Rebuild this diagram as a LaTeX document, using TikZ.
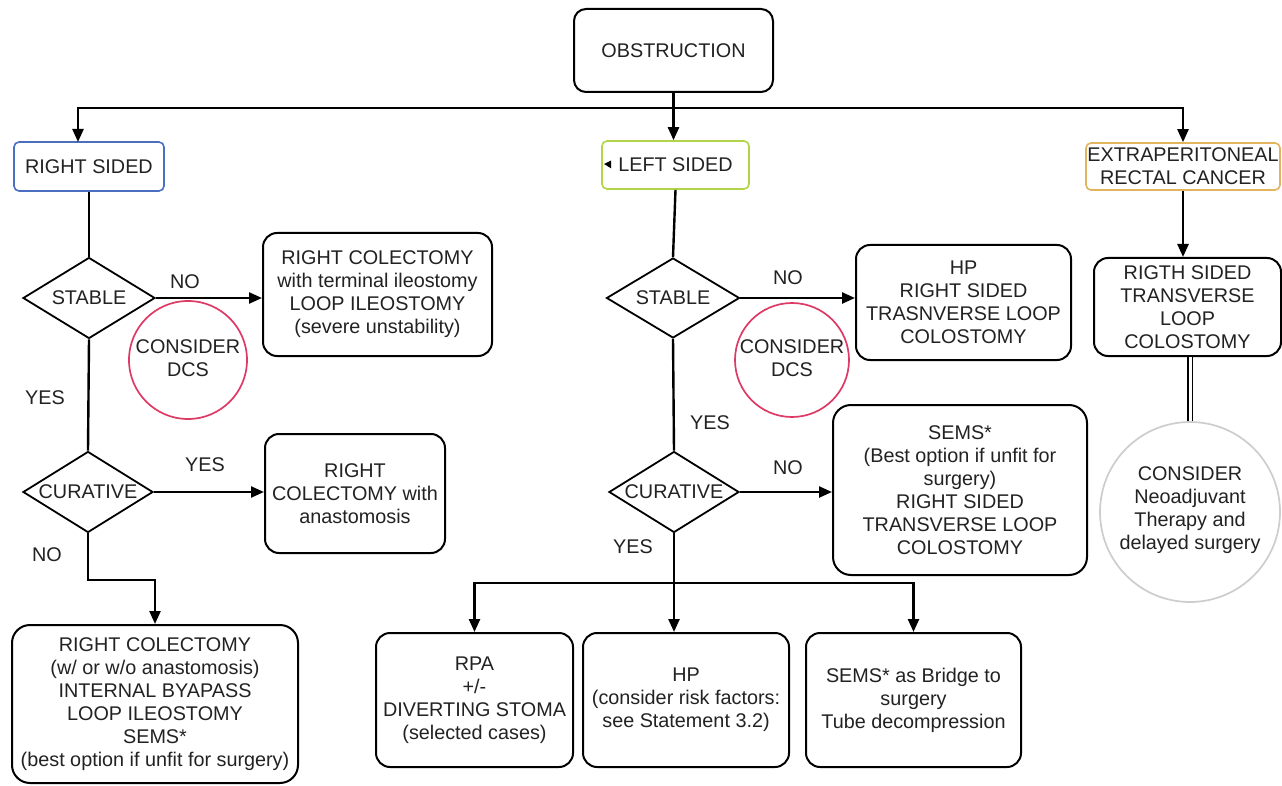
\documentclass[tikz,border=0pt]{standalone}
\usepackage{fontspec}
\setmainfont{Liberation Sans}
\usetikzlibrary{shapes.geometric,arrows.meta,calc}
\definecolor{txt}{HTML}{222222}
\definecolor{blueb}{HTML}{4A6FC0}
\definecolor{greenb}{HTML}{B2D448}
\definecolor{orangeb}{HTML}{E2B45E}
\definecolor{redc}{HTML}{DE3A66}
\definecolor{grayc}{HTML}{CDCDCD}
\begin{document}
\begin{tikzpicture}[x=1pt,y=-1pt,
  every node/.style={text=txt, font=\fontsize{19.8}{23}\selectfont, align=center},
  box/.style={draw=black, line width=2pt, rounded corners=14pt, inner sep=0pt},
  smallbox/.style={line width=1.6pt, rounded corners=5pt, inner sep=0pt},
  dia/.style={draw=black, line width=1.8pt, shape=diamond, inner sep=0pt},
  ring/.style={shape=circle, line width=1.7pt, inner sep=0pt},
  conn/.style={draw=black, line width=2.4pt},
  arr/.style={conn, -{Triangle[length=13pt,width=11pt]}},
  lbl/.style={inner sep=0pt}
]
\useasboundingbox (0,0) rectangle (1282,786);
\fill[white] (0,0) rectangle (1282,786);

% top
\node[box, rounded corners=12pt, minimum width=199pt, minimum height=83pt] (obs) at (673.5,50.5) {OBSTRUCTION};
\node[smallbox, draw=blueb, minimum width=150pt, minimum height=49pt] (rs) at (89,166.5) {RIGHT SIDED};
\node[smallbox, draw=greenb, minimum width=147pt, minimum height=48pt] (ls) at (675.5,165) {LEFT SIDED};
\node[smallbox, draw=orangeb, minimum width=194pt, minimum height=47pt] (ext) at (1183,166.5) {EXTRAPERITONEAL\\RECTAL CANCER};
\fill[black] ($(ls.west)+(10,-4.5)$) -- ($(ls.west)+(3,-1)$) -- ($(ls.west)+(10,3.5)$) -- cycle;

\coordinate (hb) at (673.5,108);
\coordinate (rsin) at (78,142);
\draw[arr] (obs.south) -- (obs.south |- ls.north);
\draw[arr] (hb) -| (rsin);
\draw[arr] (hb) -| (ext.north);

% right sided branch
\node[dia, minimum width=132pt, minimum height=81pt, label={center:STABLE}] (st1) at (89,298) {};
\node[dia, minimum width=130pt, minimum height=81pt, label={center:CURATIVE}] (cu1) at (88,492) {};
\node[box, minimum width=229pt, minimum height=123pt] (rc1) at (377.5,294.5) {RIGHT COLECTOMY\\with terminal ileostomy\\LOOP ILEOSTOMY\\(severe unstability)};
\node[box, minimum width=180pt, minimum height=119pt] (rc2) at (355,493.5) {RIGHT\\COLECTOMY with\\anastomosis};
\node[box, rounded corners=18pt, minimum width=286pt, minimum height=158pt] (rc3) at (155,704) {RIGHT COLECTOMY\\(w/ or w/o anastomosis)\\INTERNAL BYAPASS\\LOOP ILEOSTOMY\\SEMS*\\(best option if unfit for surgery)};
\node[ring, draw=redc, minimum size=118pt] (dcs1) at (188,360) {};
\node[lbl] (dcs1t) at (188,358) {CONSIDER\\DCS};

\draw[conn] (rs.south) -- (st1.north);
\draw[arr] (st1.east) -- (st1.east -| rc1.west);
\draw[conn] (st1.south) -- (cu1.north);
\draw[arr] (cu1.east) -- (cu1.east -| rc2.west);
\coordinate (k1) at (88,580);
\draw[arr] (cu1.south) -- (k1) -| (rc3.north);

\node[lbl] (no1) at (185,282) {NO};
\node[lbl] (yes1) at (45,398) {YES};
\node[lbl] (yes2) at (205,465) {YES};
\node[lbl] (no2) at (47,555) {NO};

% left sided branch
\node[dia, minimum width=133pt, minimum height=80pt, label={center:STABLE}] (st2) at (673,298) {};
\node[dia, minimum width=130pt, minimum height=81pt, label={center:CURATIVE}] (cu2) at (674,492) {};
\node[box, minimum width=215pt, minimum height=115pt] (hp1) at (963.5,302.5) {HP\\RIGHT SIDED\\TRASNVERSE LOOP\\COLOSTOMY};
\node[box, rounded corners=18pt, minimum width=254pt, minimum height=170pt] (sems1) at (960,490) {SEMS*\\(Best option if unfit for\\surgery)\\RIGHT SIDED\\TRANSVERSE LOOP\\COLOSTOMY};
\node[ring, draw=redc, minimum size=114pt] (dcs2) at (792,360) {};
\node[lbl] (dcs2t) at (792,358) {CONSIDER\\DCS};
\node[box, minimum width=197pt, minimum height=134pt] (rpa) at (474.5,700) {RPA\\+/-\\DIVERTING STOMA\\(selected cases)};
\node[box, minimum width=206pt, minimum height=134pt] (hp2) at (686,700) {HP\\(consider risk factors:\\see Statement 3.2)};
\node[box, minimum width=215pt, minimum height=134pt] (sems2) at (913.5,700) {SEMS* as Bridge to\\surgery\\Tube decompression};

\draw[conn] (ls.south) -- (st2.north);
\draw[arr] (st2.east) -- (st2.east -| hp1.west);
\draw[conn] (st2.south) -- (cu2.north);
\draw[arr] (cu2.east) -- (cu2.east -| sems1.west);
\coordinate (k2) at (674,583);
\draw[conn] (cu2.south) -- (k2);
\draw[arr] (k2) -| (rpa.north);
\draw[arr] (k2) -| (sems2.north);
\draw[arr] (k2) -- (k2 |- hp2.north);

\node[lbl] (no3) at (788,278) {NO};
\node[lbl] (yes3) at (710,423) {YES};
\node[lbl] (no4) at (788,468) {NO};
\node[lbl] (yes4) at (633,547) {YES};

% extraperitoneal branch
\node[box, minimum width=187pt, minimum height=98pt] (rsd) at (1187.5,307) {RIGTH SIDED\\TRANSVERSE\\LOOP\\COLOSTOMY};
\node[ring, draw=grayc, minimum size=180pt] (neo) at (1190,512) {};
\node[lbl] (neot) at (1190,510) {CONSIDER\\Neoadjuvant\\Therapy and\\delayed surgery};
\draw[arr] (ext.south) -- (ext.south |- rsd.north);
\draw[black, line width=1.8pt, double=white, double distance=3pt] (neo.north |- rsd.south) -- (neo.north);
\end{tikzpicture}
\end{document}
